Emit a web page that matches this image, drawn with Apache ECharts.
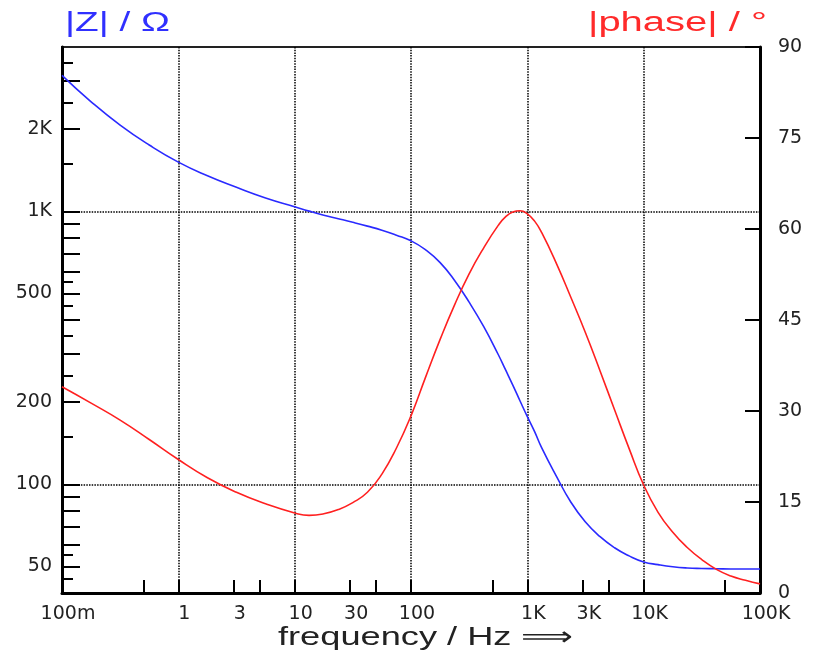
<!DOCTYPE html>
<html>
<head>
<meta charset="utf-8">
<script src="https://cdn.jsdelivr.net/npm/echarts@6/dist/echarts.min.js"></script>
<style>
  html, body { margin: 0; padding: 0; background: #fff; }
  #chart { width: 835px; height: 660px; }
</style>
</head>
<body>
<div id="chart"></div>
<script>
// frequency points (Hz): quarter decades up to 10 Hz, eighth decades above, finer round the phase peak
const freq = [0.1, 0.178, 0.316, 0.562, 1, 1.78, 3.16, 5.62, 10,
  13.3, 17.8, 23.7, 31.6, 42.2, 56.2, 75, 100,
  133, 178, 237, 316, 422, 562, 649, 750, 866, 1000, 1155,
  1330, 1780, 2370, 3160, 4220, 5620, 7500, 10000,
  13300, 17800, 23700, 31600, 42200, 56200, 75000, 100000];
// |Z| in ohm (left, log)
const impedance = [3150, 2520, 2070, 1750, 1515, 1350, 1225, 1120, 1040,
  1002, 968, 940, 912, 883, 853, 818, 780,
  724, 649, 558, 465, 378, 299, 263, 231, 202, 177, 156,
  136, 107, 86, 72.8, 64.3, 58.6, 54.7, 52,
  50.8, 49.9, 49.4, 49.2, 49.1, 49.0, 49.0, 49.0];
// |phase| in degrees (right, linear)
const phase = [34.0, 31.3, 28.5, 25.3, 22.0, 19.0, 16.6, 14.7, 13.2,
  12.8, 13.05, 13.75, 14.9, 16.6, 19.6, 23.9, 29.2,
  35.5, 41.8, 47.5, 52.6, 56.9, 60.6, 62.0, 62.8, 63.0, 62.5, 61.3,
  59.4, 54.3, 48.7, 42.9, 36.6, 30.2, 23.8, 17.8,
  13.3, 10.0, 7.5, 5.5, 3.9, 2.8, 2.1, 1.5];

const xLabelValues = [0.1, 1, 3, 10, 30, 100, 1000, 3000, 10000, 100000];
const xTickValues = [0.5, 1, 3, 5, 10, 30, 50, 100, 500, 1000, 3000, 5000, 10000, 50000];
const xGridValues = [1, 10, 100, 1000, 10000];
const zLabelValues = [50, 100, 200, 500, 1000, 2000];
const zLongTicks = [50, 60, 70, 80, 90, 100, 200, 300, 400, 500, 600, 700, 800, 900, 1000, 2000, 3000];
const zShortTicks = [45, 55, 150, 250, 350, 450, 550, 1500, 2500, 3500];
const zGridValues = [100, 1000];

const chart = echarts.init(document.getElementById("chart"));

const ctx = document.createElement("canvas").getContext("2d");
function stretch(text, font, width) {
  ctx.font = font;
  return width / ctx.measureText(text).width;
}

function fmtSI(v) {
  if (v < 1) return Math.round(v * 1000) + "m";
  if (v >= 1000) return Math.round(v / 1000) + "K";
  return String(v);
}

const labelFont = { fontFamily: "DejaVu Sans", fontSize: 19, color: "#222" };
const dotted = { color: "#000", width: 1.5, type: [1.5, 1.2] };
const ZMIN = 40, ZMAX = 4000;

const titleFont = '27px "Liberation Sans"';
const nameFont = '26px "Liberation Sans"';
const xName = "frequency / Hz \u27F9";

const option = {
  animation: false,
  backgroundColor: "#fff",
  grid: {
    left: 62, right: 75, top: 47, bottom: 67,
    show: true, borderColor: "#222", borderWidth: 2
  },
  xAxis: [
    {
      type: "log", min: 0.1, max: 100000,
      axisLine: { lineStyle: { color: "#000", width: 3 } },
      axisTick: { inside: true, length: 13, lineStyle: { color: "#000", width: 2 }, customValues: xTickValues },
      axisLabel: Object.assign({ customValues: xLabelValues, formatter: fmtSI, margin: 12, padding: [0, 0, 0, 12] }, labelFont),
      splitLine: { show: false }
    },
    {
      type: "log", min: 0.1, max: 100000,
      axisLine: { show: false },
      axisTick: { show: false, customValues: xGridValues },
      axisLabel: { show: false },
      splitLine: { show: true, lineStyle: dotted }
    }
  ],
  yAxis: [
    {
      type: "log", min: ZMIN, max: ZMAX, position: "left",
      axisLine: { show: true, lineStyle: { color: "#000", width: 3 } },
      axisTick: { inside: true, length: 18, lineStyle: { color: "#000", width: 2 }, customValues: zLongTicks },
      axisLabel: Object.assign({ customValues: zLabelValues, formatter: fmtSI, margin: 10 }, labelFont),
      splitLine: { show: false }
    },
    {
      type: "log", min: ZMIN, max: ZMAX, position: "left",
      axisLine: { show: false },
      axisTick: { inside: true, length: 11, lineStyle: { color: "#000", width: 2 }, customValues: zShortTicks },
      axisLabel: { show: false },
      splitLine: { show: false }
    },
    {
      type: "log", min: ZMIN, max: ZMAX, position: "left",
      axisLine: { show: false },
      axisTick: { show: false, customValues: zGridValues },
      axisLabel: { show: false },
      splitLine: { show: true, lineStyle: dotted }
    },
    {
      type: "value", min: 0, max: 90, interval: 15, position: "right",
      axisLine: { show: true, lineStyle: { color: "#000", width: 3 } },
      axisTick: { inside: true, length: 15, lineStyle: { color: "#000", width: 2 } },
      axisLabel: Object.assign({ margin: 18, padding: [7, 0, 0, 0] }, labelFont),
      splitLine: { show: false }
    }
  ],
  series: [
    {
      name: "|Z|",
      type: "line",
      xAxisIndex: 0,
      yAxisIndex: 0,
      data: freq.map((f, i) => [f, impedance[i]]),
      smooth: 0.5,
      showSymbol: false,
      lineStyle: { color: "#2a2aff", width: 1.6 }
    },
    {
      name: "|phase|",
      type: "line",
      xAxisIndex: 0,
      yAxisIndex: 3,
      data: freq.map((f, i) => [f, phase[i]]),
      smooth: 0.5,
      showSymbol: false,
      lineStyle: { color: "#ff2020", width: 1.6 }
    }
  ],
  graphic: [
    {
      type: "text", x: 65, y: 24,
      scaleX: stretch("|Z| / \u03A9", titleFont, 105),
      style: { text: "|Z| / \u03A9", font: titleFont, fill: "#3030ff", align: "left", verticalAlign: "middle" }
    },
    {
      type: "text", x: 588, y: 24,
      scaleX: stretch("|phase| / \u00B0", titleFont, 179),
      style: { text: "|phase| / \u00B0", font: titleFont, fill: "#ff2a2a", align: "left", verticalAlign: "middle" }
    },
    {
      type: "text", x: 278, y: 638,
      scaleX: stretch(xName, nameFont, 295),
      style: { text: xName, font: nameFont, fill: "#222", align: "left", verticalAlign: "middle" }
    }
  ]
};

chart.setOption(option);
</script>
</body>
</html>
